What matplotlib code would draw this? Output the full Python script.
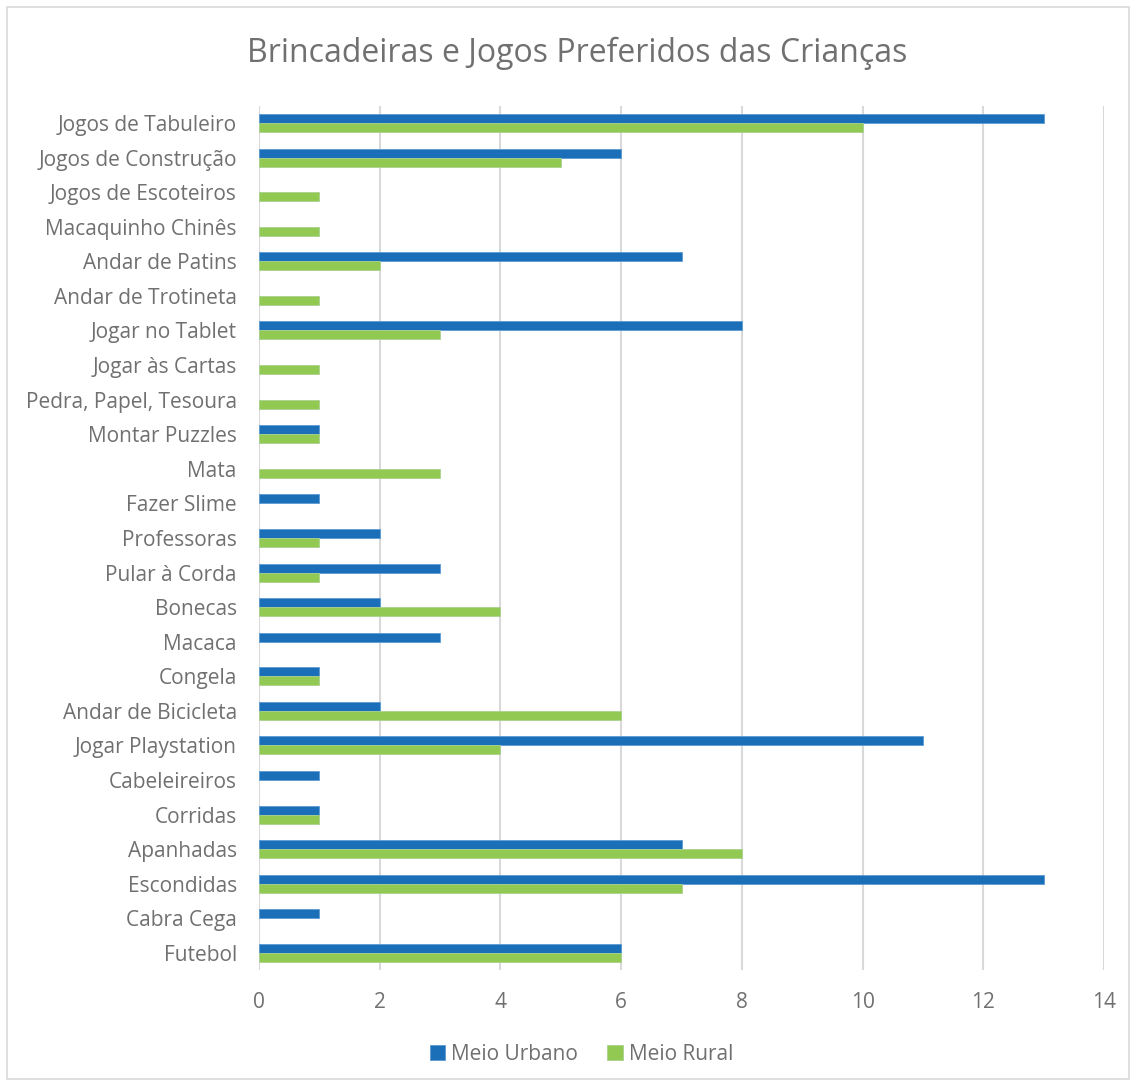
import numpy as np
import matplotlib.pyplot as plt
from matplotlib.patches import Rectangle

# categories listed bottom -> top
categorias = ["Futebol", "Cabra Cega", "Escondidas", "Apanhadas", "Corridas",
              "Cabeleireiros", "Jogar Playstation", "Andar de Bicicleta", "Congela",
              "Macaca", "Bonecas", "Pular à Corda", "Professoras", "Fazer Slime",
              "Mata", "Montar Puzzles", "Pedra, Papel, Tesoura", "Jogar às Cartas",
              "Jogar no Tablet", "Andar de Trotineta", "Andar de Patins",
              "Macaquinho Chinês", "Jogos de Escoteiros", "Jogos de Construção",
              "Jogos de Tabuleiro"]
meio_urbano = [6, 1, 13, 7, 1, 1, 11, 2, 1, 3, 2, 3, 2, 1, 0, 1, 0, 0, 8, 0, 7, 0, 0, 6, 13]
meio_rural = [6, 0, 7, 8, 1, 0, 4, 6, 1, 0, 4, 1, 1, 0, 3, 1, 1, 1, 3, 1, 2, 1, 1, 5, 10]
xticks = [0, 2, 4, 6, 8, 10, 12, 14]

plt.rcParams['font.family'] = ['Open Sans', 'DejaVu Sans']
txt = '#707070'
blue = '#1B6FB8'
green = '#92C953'

fig = plt.figure(figsize=(11.36, 10.86), dpi=100)
fig.patches.append(Rectangle((0.006, 0.006), 0.988, 0.988, transform=fig.transFigure,
                             fill=False, edgecolor='#D9D9D9', linewidth=1.2))
ax = fig.add_axes([0.228, 0.1066, 0.744, 0.7961])

y = np.arange(len(categorias))
h = 0.26
# no outline on empty bars, otherwise a thin stub shows at zero
edge_u = ['#5B9BD5' if v > 0 else 'none' for v in meio_urbano]
edge_r = ['#A9D18E' if v > 0 else 'none' for v in meio_rural]
ax.barh(y + h / 2, meio_urbano, height=h, color=blue, edgecolor=edge_u,
        linewidth=0.6, label='Meio Urbano', zorder=3)
ax.barh(y - h / 2, meio_rural, height=h, color=green, edgecolor=edge_r,
        linewidth=0.6, label='Meio Rural', zorder=3)

ax.set_xlim(0, 14)
ax.set_ylim(-0.5, len(categorias) - 0.5)
ax.set_xticks(xticks)
ax.set_yticks(y)
ax.set_yticklabels(categorias)
ax.grid(axis='x', color='#D9D9D9', linewidth=1.5, zorder=0)
for s in ax.spines.values():
    s.set_visible(False)
ax.tick_params(axis='both', length=0, colors=txt, labelsize=15)
ax.tick_params(axis='y', pad=16)
ax.tick_params(axis='x', pad=16)

fig.text(0.508, 0.951, 'Brincadeiras e Jogos Preferidos das Crianças', ha='center',
         va='center', fontsize=23, color=txt)
leg = fig.legend(loc='center', bbox_to_anchor=(0.512, 0.029), ncol=2, frameon=False,
                 fontsize=15, handlelength=0.75, handleheight=0.75, columnspacing=1.4,
                 handletextpad=0.3)
for t in leg.get_texts():
    t.set_color(txt)

fig.savefig('out.png', dpi=100)
